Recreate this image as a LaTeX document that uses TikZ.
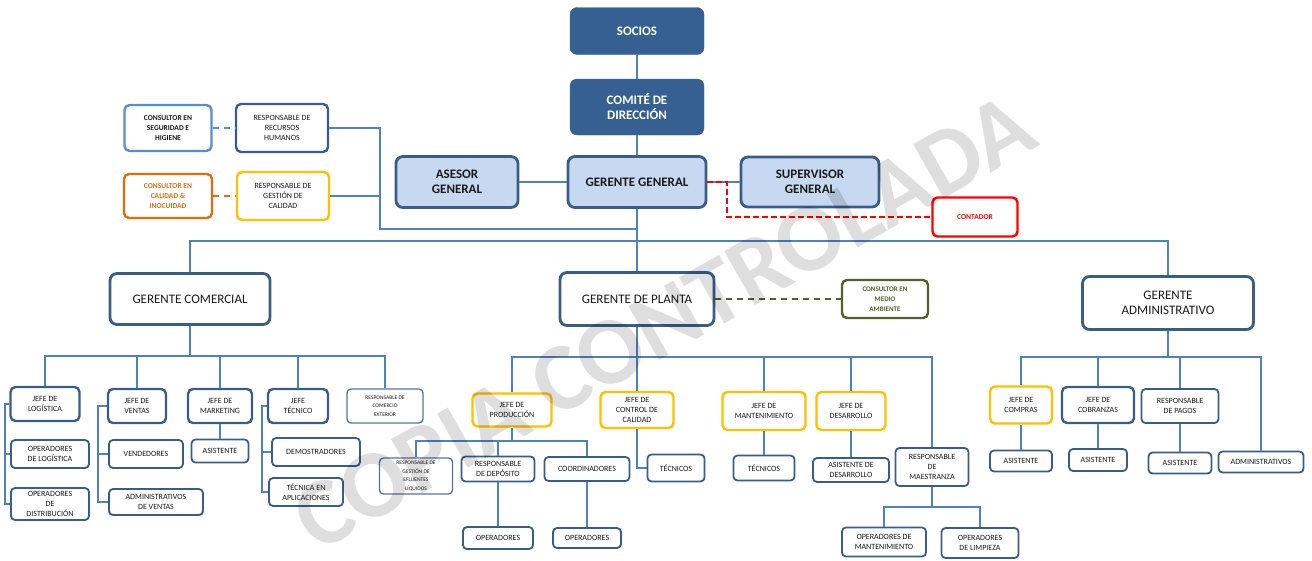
\documentclass[tikz,border=0pt]{standalone}
\usepackage{fontspec}
\setmainfont{Carlito}
\usepackage{xcolor}
\usepackage{tikz}
\definecolor{headBlue}{HTML}{376092}
\definecolor{lineBlue}{HTML}{4F81BD}
\definecolor{frameBlue}{HTML}{385D8A}
\definecolor{paleBlue}{HTML}{C6D9F1}
\definecolor{skyBlue}{HTML}{558ED5}
\definecolor{qualYellow}{HTML}{FFC000}
\definecolor{qualOrange}{HTML}{E46C0A}
\definecolor{envGreen}{HTML}{4F6228}
\definecolor{alertRed}{HTML}{FF0000}
\definecolor{inkGray}{HTML}{1A1A1A}

\begin{document}
\begin{tikzpicture}[x=1pt,y=-1pt,
    link/.style={draw=lineBlue,line width=1.6pt},
    redDash/.style={draw=alertRed,line width=1.6pt,dash pattern=on 6pt off 3pt},
    segDash/.style={draw=skyBlue,line width=1.6pt,dash pattern=on 6pt off 5pt},
    calDash/.style={draw=qualOrange,line width=1.6pt,dash pattern=on 6pt off 5pt},
    envDash/.style={draw=envGreen,line width=1.6pt,dash pattern=on 6pt off 5pt},
    topbox/.style={draw=headBlue,fill=headBlue,rounded corners=7pt,align=center,
      text=white,font=\fontsize{13}{15}\selectfont\bfseries,inner sep=1pt},
    headbox/.style={draw=frameBlue,fill=paleBlue,line width=2.8pt,rounded corners=7pt,
      align=center,text=inkGray,font=\fontsize{13}{15}\selectfont\bfseries,inner sep=1pt},
    mgrbox/.style={draw=frameBlue,fill=white,line width=2.8pt,rounded corners=7pt,
      align=center,text=inkGray,font=\fontsize{13}{15.5}\selectfont,inner sep=1pt},
    jefebox/.style={draw=frameBlue,fill=white,line width=2.4pt,rounded corners=5pt,
      align=center,text=inkGray,font=\fontsize{8}{10}\selectfont,inner sep=1pt},
    yelbox/.style={jefebox,draw=qualYellow},
    subbox/.style={draw=frameBlue,fill=white,line width=1.8pt,rounded corners=4pt,
      align=center,text=inkGray,font=\fontsize{8}{10}\selectfont,inner sep=1pt},
    tinybox/.style={subbox,line width=1.4pt,draw=frameBlue!85,font=\fontsize{5.5}{8.5}\selectfont},
    consbox/.style={jefebox,font=\fontsize{7.5}{10}\selectfont\bfseries}]
  \useasboundingbox (0,0) rectangle (1312,560);

  % top of the chart
  \node[topbox,minimum width=134,minimum height=47] (socios) at (637,31) {SOCIOS};
  \node[topbox,minimum width=134,minimum height=56] (comite) at (637,107) {COMITÉ DE\\DIRECCIÓN};
  \node[headbox,minimum width=138,minimum height=51] (gg) at (637,182) {GERENTE GENERAL};
  \node[headbox,minimum width=122,minimum height=51] (asesor) at (457,182) {ASESOR\\GENERAL};
  \node[headbox,minimum width=138,minimum height=50] (superv) at (810,182) {SUPERVISOR\\GENERAL};
  \node[jefebox,draw=alertRed,text=alertRed,font=\fontsize{7.5}{10}\selectfont\bfseries,
    minimum width=85,minimum height=39] (contador) at (975,217) {CONTADOR};

  % staff
  \node[jefebox,minimum width=92,minimum height=48] (rrhh) at (282,128) {RESPONSABLE DE\\RECURSOS\\HUMANOS};
  \node[consbox,draw=skyBlue,minimum width=87,minimum height=46] (segcons) at (168,128) {CONSULTOR EN\\SEGURIDAD E\\HIGIENE};
  \node[yelbox,minimum width=92,minimum height=48] (gcal) at (283,196) {RESPONSABLE DE\\GESTIÓN DE\\CALIDAD};
  \node[consbox,draw=qualOrange,text=qualOrange,minimum width=88,minimum height=44] (calcons) at (168,196) {CONSULTOR EN\\CALIDAD \&\\INOCUIDAD};

  % gerentes
  \node[mgrbox,minimum width=160,minimum height=51] (gcom) at (190,299) {GERENTE COMERCIAL};
  \node[mgrbox,minimum width=154,minimum height=53] (gplanta) at (637,299) {GERENTE DE PLANTA};
  \node[consbox,draw=envGreen,text=envGreen,font=\fontsize{7}{10}\selectfont\bfseries,
    minimum width=86,minimum height=38] (envcons) at (885,299) {CONSULTOR EN\\MEDIO\\AMBIENTE};
  \node[mgrbox,minimum width=171,minimum height=53] (gadm) at (1168,303) {GERENTE\\ADMINISTRATIVO};

  % area comercial
  \node[jefebox,minimum width=69,minimum height=34] (jlog) at (45,404) {JEFE DE\\LOGÍSTICA};
  \node[subbox,minimum width=78,minimum height=28] (oplog) at (50,454) {OPERADORES\\DE LOGÍSTICA};
  \node[subbox,minimum width=78,minimum height=32] (opdis) at (50,504) {OPERADORES\\DE\\DISTRIBUCIÓN};
  \node[jefebox,minimum width=58,minimum height=34] (jven) at (137,406) {JEFE DE\\VENTAS};
  \node[subbox,minimum width=74,minimum height=28] (vend) at (146,454) {VENDEDORES};
  \node[subbox,minimum width=94,minimum height=26] (admven) at (156,502) {ADMINISTRATIVOS\\DE VENTAS};
  \node[jefebox,minimum width=64,minimum height=34] (jmkt) at (220,406) {JEFE DE\\MARKETING};
  \node[subbox,minimum width=57,minimum height=23] (asmkt) at (220,451) {ASISTENTE};
  \node[jefebox,minimum width=60,minimum height=34] (jtec) at (298,406) {JEFE\\TÉCNICO};
  \node[subbox,minimum width=88,minimum height=28] (demo) at (316,452) {DEMOSTRADORES};
  \node[subbox,minimum width=74,minimum height=28] (tecap) at (306,492) {TÉCNICA EN\\APLICACIONES};
  \node[tinybox,minimum width=76,minimum height=34] (rcext) at (385,406) {RESPONSABLE DE\\COMERCIO\\EXTERIOR};

  % area planta
  \node[yelbox,minimum width=79,minimum height=33] (jprod) at (512,410) {JEFE DE\\PRODUCCIÓN};
  \node[yelbox,minimum width=73,minimum height=36] (jcc) at (637,410) {JEFE DE\\CONTROL DE\\CALIDAD};
  \node[yelbox,minimum width=83,minimum height=38] (jman) at (764,411) {JEFE DE\\MANTENIMIENTO};
  \node[yelbox,minimum width=69,minimum height=38] (jdes) at (851,411) {JEFE DE\\DESARROLLO};
  \node[subbox,minimum width=73,minimum height=38] (rmae) at (932,467) {RESPONSABLE\\DE\\MAESTRANZA};
  \node[tinybox,minimum width=73,minimum height=36] (eflu) at (416,476) {RESPONSABLE DE\\GESTIÓN DE\\EFLUENTES\\LÍQUIDOS};
  \node[subbox,minimum width=73,minimum height=25] (dep) at (498,469) {RESPONSABLE\\DE DEPÓSITO};
  \node[subbox,minimum width=85,minimum height=24] (coord) at (587,469) {COORDINADORES};
  \node[subbox,minimum width=70,minimum height=22] (opdep) at (498,538) {OPERADORES};
  \node[subbox,minimum width=68,minimum height=20] (opcoo) at (587,538) {OPERADORES};
  \node[subbox,minimum width=57,minimum height=27] (teccc) at (676,468) {TÉCNICOS};
  \node[subbox,minimum width=61,minimum height=25] (tecman) at (764,468) {TÉCNICOS};
  \node[subbox,minimum width=76,minimum height=24] (asdes) at (851,470) {ASISTENTE DE\\DESARROLLO};
  \node[subbox,minimum width=84,minimum height=29] (opman) at (884,542) {OPERADORES DE\\MANTENIMIENTO};
  \node[subbox,minimum width=77,minimum height=30] (oplim) at (980,543) {OPERADORES\\DE LIMPIEZA};

  % area administrativa
  \node[yelbox,minimum width=62,minimum height=37] (jcom) at (1021,405) {JEFE DE\\COMPRAS};
  \node[jefebox,minimum width=72,minimum height=36] (jcob) at (1098,405) {JEFE DE\\COBRANZAS};
  \node[subbox,minimum width=77,minimum height=34] (rpag) at (1180,406) {RESPONSABLE\\DE PAGOS};
  \node[subbox,minimum width=62,minimum height=21] (ascom) at (1021,461) {ASISTENTE};
  \node[subbox,minimum width=58,minimum height=22] (ascob) at (1098,460) {ASISTENTE};
  \node[subbox,minimum width=63,minimum height=21] (aspag) at (1180,463) {ASISTENTE};
  \node[subbox,minimum width=85,minimum height=21] (admtv) at (1261,462) {ADMINISTRATIVOS};

  % bends and buses
  \coordinate (ctBend) at (727,217);
  \coordinate (staffJoin) at (380,229);
  \coordinate (mainBus) at (637,241);
  \coordinate (comBus) at (190,356);
  \coordinate (logRail) at (5,404);
  \coordinate (venRail) at (98,406);
  \coordinate (tecRail) at (262,406);
  \coordinate (plBus) at (637,357);
  \coordinate (prodBus) at (512,441);
  \coordinate (maeBus) at (932,507);
  \coordinate (admBus) at (1168,357);

  \draw[link] (socios) -- (comite);
  \draw[link] (comite) -- (gg);
  \draw[link] (asesor) -- (gg);
  \draw[link] (gg) -- (superv);
  \draw[redDash] (gg.east) -| (ctBend) -- (contador);
  \draw[segDash] (segcons) -- (rrhh);
  \draw[calDash] (calcons) -- (gcal);
  \draw[link] (rrhh.east) -| (staffJoin) -- (staffJoin -| gg.south);
  \draw[link] (gcal.east) -| (staffJoin);
  \draw[link] (gg) -- (gplanta);
  \draw[link] (gcom.north) |- (mainBus) -| (gadm.north);
  \draw[envDash] (gplanta) -- (envcons);

  \draw[link] (gcom) -- (comBus);
  \draw[link] (comBus) -| (jlog.north);
  \draw[link] (comBus) -| (jven.north);
  \draw[link] (comBus) -| (jmkt.north);
  \draw[link] (comBus) -| (jtec.north);
  \draw[link] (comBus) -| (rcext.north);
  \draw[link] (jlog.west) -- (logRail) |- (opdis.west);
  \draw[link] (oplog.west) -- (oplog.west -| logRail);
  \draw[link] (jven.west) -- (venRail) |- (admven.west);
  \draw[link] (vend.west) -- (vend.west -| venRail);
  \draw[link] (jtec.west) -- (tecRail) |- (tecap.west);
  \draw[link] (demo.west) -- (demo.west -| tecRail);
  \draw[link] (jmkt) -- (asmkt);

  \draw[link] (gplanta) -- (plBus);
  \draw[link] (plBus) -| (jprod.north);
  \draw[link] (plBus) -| (jcc.north);
  \draw[link] (plBus) -| (jman.north);
  \draw[link] (plBus) -| (jdes.north);
  \draw[link] (plBus) -| (rmae.north);
  \draw[link] (jprod) -- (prodBus);
  \draw[link] (prodBus) -| (eflu.north);
  \draw[link] (prodBus) -| (dep.north);
  \draw[link] (prodBus) -| (coord.north);
  \draw[link] (dep) -- (opdep);
  \draw[link] (coord) -- (opcoo);
  \draw[link] (jcc.south) |- (teccc.west);
  \draw[link] (jman) -- (tecman);
  \draw[link] (jdes) -- (asdes);
  \draw[link] (rmae) -- (maeBus);
  \draw[link] (maeBus) -| (opman.north);
  \draw[link] (maeBus) -| (oplim.north);

  \draw[link] (gadm) -- (admBus);
  \draw[link] (admBus) -| (jcom.north);
  \draw[link] (admBus) -| (jcob.north);
  \draw[link] (admBus) -| (rpag.north);
  \draw[link] (admBus) -| (admtv.north);
  \draw[link] (jcom) -- (ascom);
  \draw[link] (jcob) -- (ascob);
  \draw[link] (rpag) -- (aspag);

  % watermark
  \node[rotate=29.5,text=black,text opacity=0.13,font=\fontsize{96}{96}\selectfont\bfseries]
    (stamp) at (664,322) {COPIA CONTROLADA};
\end{tikzpicture}
\end{document}
